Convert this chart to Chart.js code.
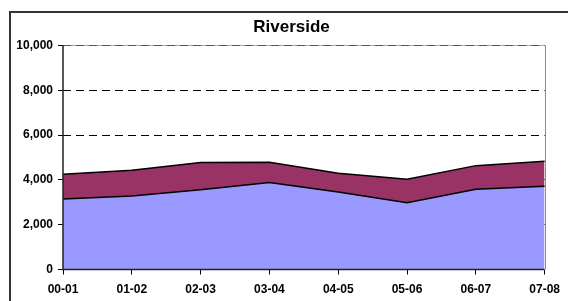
<!DOCTYPE html>
<html><head><meta charset="utf-8">
<script src="https://cdn.jsdelivr.net/npm/chart.js@4"></script>
<style>html,body{margin:0;padding:0;background:#fff;overflow:hidden}#wrap{width:568px;height:301px}</style>
</head><body><div id="wrap"><canvas id="c" width="568" height="301"></canvas></div>
<script>
const categories = ['00-01','01-02','02-03','03-04','04-05','05-06','06-07','07-08'];
const lowerSeries = [3150, 3280, 3560, 3880, 3460, 2980, 3580, 3710];
const upperSeries = [1100, 1150, 1210, 905, 835, 1045, 1055, 1120];
const yTickValues = [0, 2000, 4000, 6000, 8000, 10000];
const chartTitle = 'Riverside';

const FONT = 'Arial, "Liberation Sans", sans-serif';

const framePlugin = {
  id: 'framePlugin',
  afterLayout(chart) {
    if (chart.titleBlock) { chart.titleBlock.left = 15; chart.titleBlock.right = 568; }
  },
  beforeDraw(chart) {
    const ctx = chart.ctx, a = chart.chartArea;
    ctx.save();
    ctx.fillStyle = '#fff';
    ctx.fillRect(0, 0, chart.width, chart.height);
    ctx.strokeStyle = '#333';
    ctx.lineWidth = 2;
    ctx.strokeRect(10, 12, 640, 400);
    ctx.strokeStyle = '#a6a6a6';
    ctx.lineWidth = 1;
    ctx.beginPath();
    ctx.moveTo(a.left, Math.round(a.top) + 0.5);
    ctx.lineTo(Math.round(a.right) + 0.5, Math.round(a.top) + 0.5);
    ctx.stroke();
    ctx.restore();
  },
  afterDatasetsDraw(chart) {
    const ctx = chart.ctx, a = chart.chartArea;
    ctx.save();
    ctx.strokeStyle = '#8c8c8c';
    ctx.lineWidth = 1;
    ctx.beginPath();
    ctx.moveTo(Math.round(a.right) + 0.5, a.top);
    ctx.lineTo(Math.round(a.right) + 0.5, a.bottom);
    ctx.stroke();
    ctx.strokeStyle = '#222';
    ctx.lineWidth = 1.5;
    ctx.beginPath();
    ctx.moveTo(a.left, a.top);
    ctx.lineTo(a.left, a.bottom);
    ctx.lineTo(a.right, a.bottom);
    ctx.stroke();
    ctx.restore();
  }
};

new Chart(document.getElementById('c'), {
  type: 'line',
  data: {
    labels: categories,
    datasets: [
      { label: 'Lower', data: lowerSeries, backgroundColor: '#9999FF', borderColor: '#000', borderWidth: 1.5, pointRadius: 0, tension: 0, fill: 'origin' },
      { label: 'Upper', data: upperSeries, backgroundColor: '#993366', borderColor: '#000', borderWidth: 1.5, pointRadius: 0, tension: 0, fill: '-1' }
    ]
  },
  options: {
    responsive: false,
    animation: false,
    devicePixelRatio: 1,
    layout: { padding: { left: 15, right: 18, top: 0, bottom: 0 } },
    plugins: {
      legend: { display: false },
      tooltip: { enabled: false },
      title: {
        display: true, text: chartTitle, color: '#000',
        font: { family: FONT, size: 17, weight: 'bold' },
        padding: { top: 17, bottom: 8 }
      }
    },
    scales: {
      x: {
        type: 'category',
        offset: false,
        grid: { drawOnChartArea: false, drawTicks: true, tickLength: 5, tickColor: '#000', tickWidth: 1 },
        border: { display: false },
        ticks: { color: '#000', font: { family: FONT, size: 12, weight: 'bold' }, padding: 8, maxRotation: 0, autoSkip: false },
        afterFit(s) { s.height = 31.5; }
      },
      y: {
        stacked: true,
        min: 0, max: 10000,
        afterBuildTicks(s) { s.ticks = yTickValues.map(v => ({ value: v })); },
        grid: {
          color: (c) => c.tick && c.tick.value === 10000 ? '#555' : (c.tick && c.tick.value === 0 ? 'rgba(0,0,0,0)' : '#000'),
          lineWidth: 1,
          drawTicks: true, tickLength: 5, tickColor: '#000', tickWidth: 1, tickBorderDash: []
        },
        border: { display: false, dash: [8, 5] },
        ticks: {
          color: '#000', padding: 5,
          font: { family: FONT, size: 12, weight: 'bold' },
          callback: (v) => Number(v).toLocaleString('en-US')
        },
        afterFit(s) { s.width = 48; }
      }
    }
  },
  plugins: [framePlugin]
});
</script>
</body></html>
